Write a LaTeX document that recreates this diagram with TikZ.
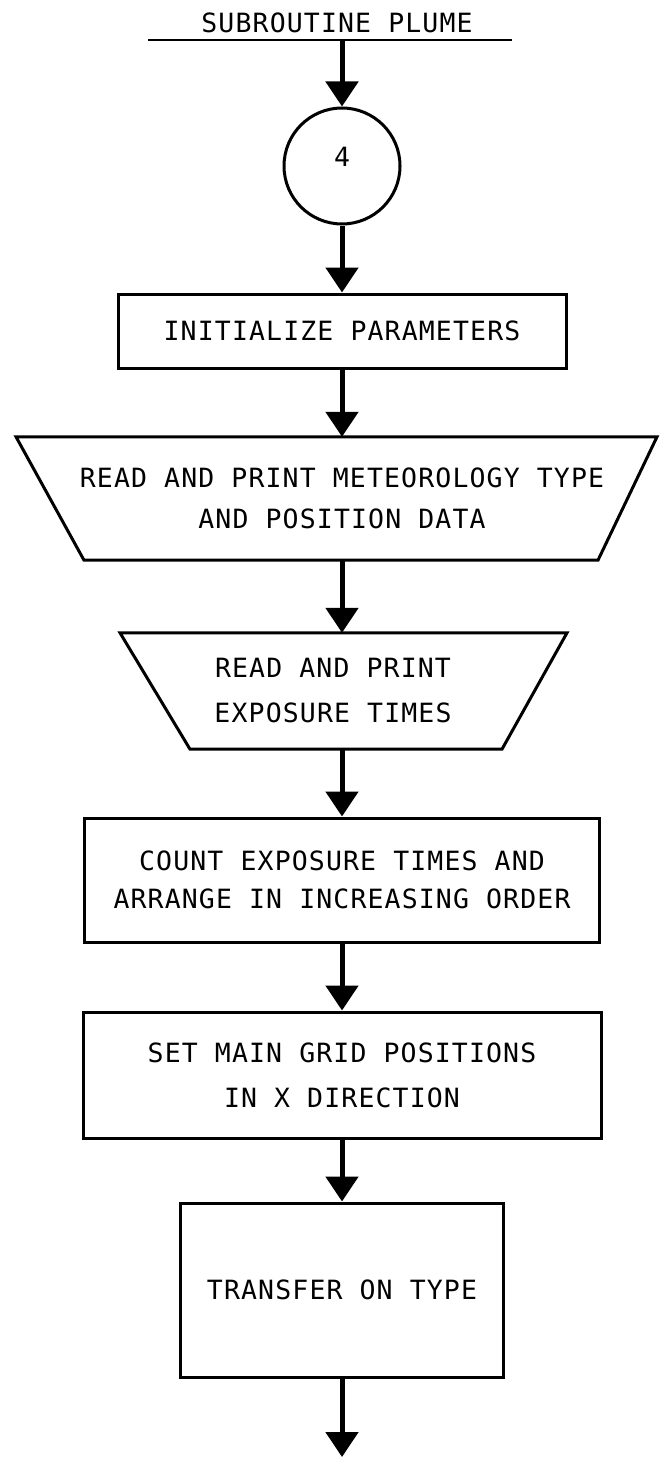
\documentclass[tikz,border=0pt]{standalone}
\usepackage{fontspec}
\newfontfamily\flowfont{DejaVu Sans Mono}[LetterSpace=4.3]
\usetikzlibrary{arrows.meta,calc}
\begin{document}
\begin{tikzpicture}[x=1pt,y=-1pt,
  lbl/.style={font=\flowfont\fontsize{26.5}{41}\selectfont, align=center},
  box/.style={draw, line width=3pt, rectangle, inner sep=0pt, lbl},
  slab/.style={rectangle, inner sep=0pt, lbl},
  flow/.style={line width=5pt, -{Triangle[width=32pt,length=25pt]}},
  edge/.style={line width=3pt, line join=miter}]
\useasboundingbox (0,0) rectangle (660,1458);

% heading and entry bar
\node[lbl] (title) at (337,23) {SUBROUTINE PLUME};
\coordinate (tl) at (148,40);
\coordinate (tr) at (512,40);
\coordinate (src) at (342,40);
\draw[line width=2.5pt] (tl) -- (tr);

% entry connector
\node[circle, draw, line width=3pt, minimum size=116pt, inner sep=0pt,
      label={[lbl, yshift=9pt]center:4}] (c4) at (342,166) {};

% process steps
\node[box, minimum width=448pt, minimum height=74pt] (init) at (342,331)
  {INITIALIZE PARAMETERS};

\node[slab, minimum width=500pt, minimum height=123pt] (met) at (342,498.5)
  {READ AND PRINT METEOROLOGY TYPE\\AND POSITION DATA};
\draw[edge] ($(met.north)+(-326,0)$) -- ($(met.north)+(315,0)$)
  -- ($(met.south)+(256,0)$) -- ($(met.south)+(-258,0)$) -- cycle;

\node[slab, minimum width=400pt, minimum height=116pt] (expo) at (342,691)
  {\hspace*{-18pt}READ AND PRINT\\[4pt]\hspace*{-18pt}EXPOSURE TIMES};
\draw[edge] ($(expo.north)+(-222,0)$) -- ($(expo.north)+(225,0)$)
  -- ($(expo.south)+(160,0)$) -- ($(expo.south)+(-152,0)$) -- cycle;

\node[box, minimum width=515pt, minimum height=124pt] (count) at (342,880)
  {COUNT EXPOSURE TIMES AND\\[-3pt]ARRANGE IN INCREASING ORDER};

\node[box, minimum width=518pt, minimum height=126pt] (grid) at (342,1075)
  {SET MAIN GRID POSITIONS\\[4pt]IN X DIRECTION};

\node[box, minimum width=323pt, minimum height=174pt] (xfer) at (342,1290)
  {TRANSFER ON TYPE};

\coordinate (sink) at (342,1457);

% flow lines
\draw[flow] (src) -- (c4);
\draw[flow] (c4) -- (init);
\draw[flow] (init) -- (met);
\draw[flow] (met) -- (expo);
\draw[flow] (expo) -- (count);
\draw[flow] (count) -- (grid);
\draw[flow] (grid) -- (xfer);
\draw[flow] (xfer) -- (sink);
\end{tikzpicture}
\end{document}
